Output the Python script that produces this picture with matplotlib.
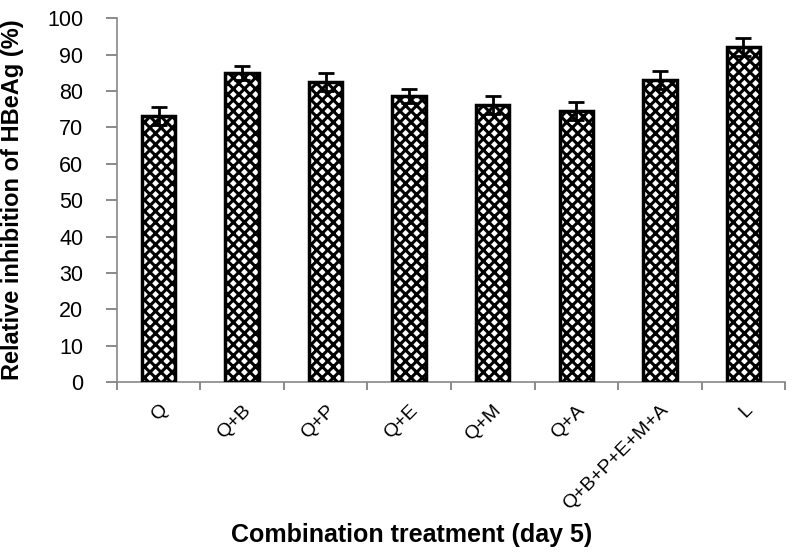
import numpy as np
import matplotlib.pyplot as plt

plt.rcParams['font.family'] = ['Liberation Sans', 'DejaVu Sans']
plt.rcParams['hatch.linewidth'] = 2.2

categories = ['Q', 'Q+B', 'Q+P', 'Q+E', 'Q+M', 'Q+A', 'Q+B+P+E+M+A', 'L']
values = [73.2, 85.0, 82.4, 78.6, 76.2, 74.5, 83.0, 92.2]
errors = [2.5, 2.0, 2.5, 2.0, 2.5, 2.5, 2.5, 2.5]

fig = plt.figure(figsize=(7.94, 5.53), dpi=100)
ax = fig.add_axes([0.147, 0.309, 0.842, 0.658])

x = np.arange(len(categories))
ax.bar(x, values, width=0.4, color='white', edgecolor='black', hatch='xxx', linewidth=0, zorder=2)
ax.bar(x, values, width=0.4, color='none', edgecolor='black', linewidth=2.5, zorder=3)
ax.errorbar(x, values, yerr=errors, fmt='none', ecolor='black', elinewidth=2, capsize=6, capthick=2, zorder=4)

ax.set_xlim(-0.5, len(categories) - 0.5)
ax.set_ylim(0, 100)
ax.set_yticks(range(0, 101, 10))
ax.set_xticks(np.arange(-0.5, len(categories), 1))
ax.set_xticklabels([])
ax.set_xticks(x, minor=True)
ax.set_xticklabels(categories, minor=True, rotation=45, ha='right', rotation_mode='anchor', fontsize=14)
ax.tick_params(axis='x', which='minor', length=0, pad=14)
ax.tick_params(axis='x', which='major', length=6, width=1.2, color='#777777')
ax.tick_params(axis='y', length=8, width=1.2, color='#777777', labelsize=15.5, pad=16)

for s in ['top', 'right']:
    ax.spines[s].set_visible(False)
for s in ['left', 'bottom']:
    ax.spines[s].set_color('#888888')
    ax.spines[s].set_linewidth(1.2)

ax.set_ylabel('Relative inhibition of HBeAg (%)', fontsize=17, fontweight='bold')
ax.yaxis.set_label_coords(-0.139, 0.5)
fig.text(0.518, 0.033, 'Combination treatment (day 5)', fontsize=18, fontweight='bold', ha='center', va='center')

fig.savefig('out.png', dpi=100)
